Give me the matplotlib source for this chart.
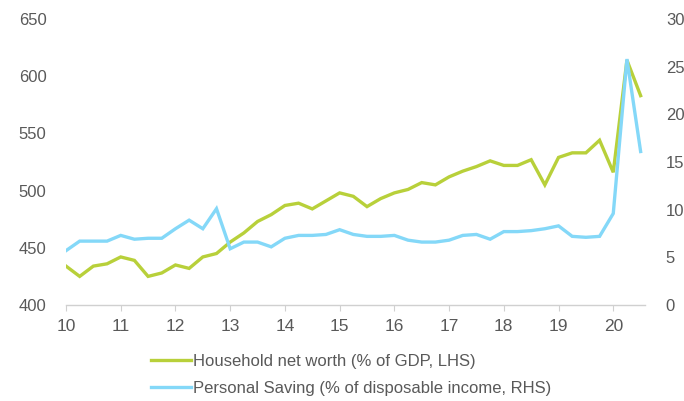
import numpy as np
import matplotlib
matplotlib.use("Agg")
import matplotlib.pyplot as plt

plt.rcParams['font.family'] = ['Liberation Sans', 'DejaVu Sans']

# Quarterly points 2010Q1 .. 2020Q3 (x in years since 2000)
quarters = [10 + 0.25 * i for i in range(43)]

net_worth = [434, 425, 434, 436, 442, 439, 425, 428, 435, 432, 442, 445,
             455, 463, 473, 479, 487, 489, 484, 491, 498, 495, 486, 493,
             498, 501, 507, 505, 512, 517, 521, 526, 522, 522, 527, 505,
             529, 533, 533, 544, 516, 614, 583]

saving = [5.7, 6.7, 6.7, 6.7, 7.3, 6.9, 7.0, 7.0, 8.0, 8.9, 8.0, 10.1,
          5.9, 6.6, 6.6, 6.1, 7.0, 7.3, 7.3, 7.4, 7.9, 7.4, 7.2, 7.2,
          7.3, 6.8, 6.6, 6.6, 6.8, 7.3, 7.4, 6.9, 7.7, 7.7, 7.8, 8.0,
          8.3, 7.2, 7.1, 7.2, 9.6, 25.8, 16.1]

year_ticks = list(range(10, 21))
left_ticks = [400, 450, 500, 550, 600, 650]
right_ticks = [0, 5, 10, 15, 20, 25, 30]

green = '#b8d03a'
blue = '#84d8f8'
txt = '#595959'

fig = plt.figure(figsize=(6.84, 4.01), dpi=100)
ax = fig.add_axes([66/684, 1 - 305/401, (645-66)/684, (305-19)/401])
ax2 = ax.twinx()

l1, = ax.plot(quarters, net_worth, color=green, lw=2.4, solid_joinstyle='miter')
l2, = ax2.plot(quarters, saving, color=blue, lw=2.4, solid_joinstyle='miter')

ax.set_xlim(10, 20.58)
ax.set_ylim(400, 650)
ax2.set_ylim(0, 30)
ax.set_xticks(year_ticks)
ax.set_xticklabels([str(y) for y in year_ticks])
ax.set_yticks(left_ticks)
ax2.set_yticks(right_ticks)

for a in (ax, ax2):
    for s in a.spines.values():
        s.set_visible(False)
ax.spines['bottom'].set_visible(True)
ax.spines['bottom'].set_color('#d0d0d0')
ax.spines['bottom'].set_linewidth(1.0)

ax.tick_params(axis='x', direction='out', length=4, color='#d0d0d0', labelsize=12.5,
               labelcolor=txt, pad=6)
ax.tick_params(axis='y', length=0, labelsize=12, labelcolor=txt, pad=14)
ax2.tick_params(axis='y', length=0, labelsize=12, labelcolor=txt, pad=15)

fig.legend([l1, l2],
           ['Household net worth (% of GDP, LHS)',
            'Personal Saving (% of disposable income, RHS)'],
           loc='upper left', bbox_to_anchor=(151/684, 1 - 354/401),
           frameon=False, fontsize=12, handlelength=2.4, handletextpad=0.1,
           labelspacing=0.72, borderpad=0, borderaxespad=0, labelcolor=txt)

fig.savefig('out.png', dpi=100)
